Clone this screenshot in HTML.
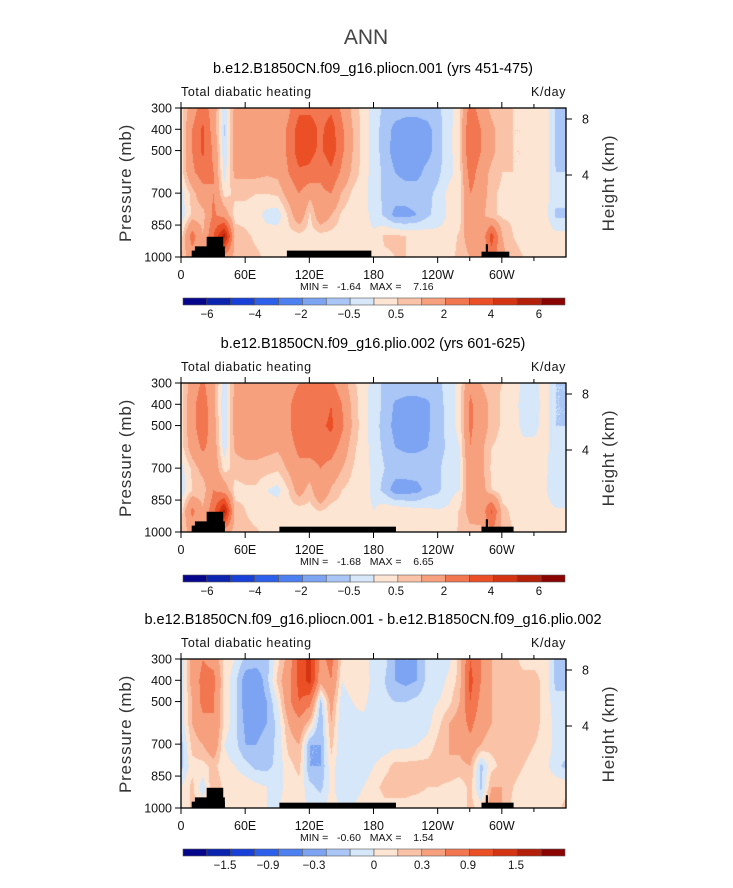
<!DOCTYPE html>
<html><head><meta charset="utf-8">
<style>
body{margin:0;background:#fff;width:733px;height:888px;overflow:hidden;position:relative;font-family:"Liberation Sans",sans-serif}
canvas{position:absolute}
svg{position:absolute;left:0;top:0}
</style></head>
<body>
<canvas id="c0" width="385" height="149" style="left:181px;top:108px"></canvas>
<canvas id="c1" width="385" height="149" style="left:181px;top:383px"></canvas>
<canvas id="c2" width="385" height="149" style="left:181px;top:659px"></canvas>
<svg id="ov" width="733" height="888"></svg>
<script>
const lons=[0,10,20,30,40,50,60,70,80,90,100,110,120,130,140,150,160,170,180,190,200,210,220,230,240,250,260,270,280,290,300,310,320,330,340,350,360];
const pres=[300,400,500,600,700,800,900,1000];
const p1=[
[0.3,1.5,2.5,1.5,-0.3,1.2,1.2,1.2,1.2,1.2,1.8,2.8,2.8,2.5,2.8,1.8,0.8,0.3,-0.3,-0.6,-0.7,-0.8,-0.8,-0.7,-0.6,-0.2,0.3,2.5,1.5,0.8,0.6,0.5,0.5,0.4,0.3,-0.6,-0.6],
[0.3,2.0,3.2,1.5,-0.6,1.4,1.4,1.4,1.4,1.4,2.2,3.5,3.5,2.8,3.5,2.2,1.0,0.3,-0.3,-0.7,-1.2,-1.3,-1.3,-1.2,-0.7,-0.2,0.4,3.0,2.0,1.2,0.6,0.5,0.5,0.4,0.3,-0.6,-0.6],
[0.3,2.0,3.2,1.8,-0.4,1.4,1.4,1.4,1.4,1.4,2.2,3.6,3.3,2.8,3.6,2.2,1.0,0.3,-0.3,-0.7,-1.3,-1.3,-1.3,-1.2,-0.7,-0.2,0.4,3.0,2.0,1.2,0.6,0.5,0.5,0.4,0.3,-0.6,-0.6],
[0.3,1.8,2.5,2.0,-0.3,1.2,1.2,1.2,1.1,1.2,2.0,2.8,2.8,2.2,2.8,1.8,0.8,0.3,-0.3,-0.6,-1.0,-1.2,-1.2,-0.8,-0.6,-0.2,0.3,2.5,1.5,0.8,0.5,0.5,0.5,0.4,0.3,-0.5,-0.5],
[-0.2,0.7,1.6,2.0,0.3,0.6,0.6,0.5,0.5,0.6,1.3,2.0,1.2,1.8,2.0,0.9,0.4,0.2,-0.3,-0.6,-0.7,-0.7,-0.7,-0.6,-0.4,0.2,0.3,2.0,1.5,0.6,0.4,0.4,0.3,0.3,0.2,-0.3,-0.3],
[-0.3,0.6,0.7,2.2,1.5,0.3,0.3,0.2,-0.2,-0.3,0.6,1.6,0.4,1.6,1.0,0.4,0.2,0.2,-0.2,-0.6,-1.2,-1.2,-1.0,-0.6,-0.3,0.1,0.2,2.0,1.2,0.6,0.4,0.4,0.3,0.3,0.2,-0.6,-0.6],
[0.3,2.5,1.0,3.0,5.5,0.8,0.6,0.4,0.3,0.3,0.3,0.3,0.3,0.3,0.3,0.2,0.2,0.2,0.1,0.6,0.6,0.5,0.4,0.3,0.2,0.2,0.6,1.5,1.0,3.5,1.0,0.5,0.4,0.3,0.3,0.2,0.2],
[0.6,1.5,1.0,2.0,1.5,0.8,0.7,0.6,0.4,0.3,0.3,0.3,0.3,0.3,0.3,0.3,0.3,0.3,0.3,0.4,0.5,0.5,0.5,0.5,0.4,0.4,0.6,1.0,1.0,2.5,1.2,0.6,0.5,0.5,0.4,0.4,0.5]];
const p2=[
[0.3,1.4,2.2,1.2,-0.3,1.1,1.3,1.3,1.3,1.1,1.5,2.0,2.0,2.2,2.2,1.4,0.6,0.3,-0.3,-0.6,-0.6,-0.7,-0.7,-0.7,-0.6,-0.3,0.2,1.8,1.0,0.6,0.5,0.4,-0.2,-0.2,0.3,-0.5,-0.5],
[0.3,1.7,2.6,1.2,-0.5,1.3,1.5,1.5,1.4,1.2,1.8,2.6,2.6,2.5,3.0,2.0,0.8,0.2,-0.3,-0.6,-1.1,-1.2,-1.2,-1.1,-0.7,-0.3,0.2,2.2,1.4,0.8,0.4,0.3,-0.3,-0.3,0.3,-0.5,-0.5],
[0.3,1.7,2.6,1.4,-0.4,1.3,1.5,1.5,1.4,1.3,1.8,2.8,2.8,2.8,3.2,2.2,0.9,0.2,-0.3,-0.7,-1.2,-1.2,-1.2,-1.1,-0.7,-0.3,0.2,2.2,1.4,0.8,0.4,0.3,-0.2,-0.2,0.3,-0.5,-0.5],
[0.3,1.4,2.2,1.5,-0.3,1.1,1.3,1.3,1.2,1.1,1.5,2.3,2.5,2.5,2.5,1.6,0.6,0.3,-0.3,-0.6,-1.0,-1.1,-1.1,-1.0,-0.7,-0.4,0.0,2.0,1.2,0.5,0.3,0.3,0.2,0.2,0.2,-0.4,-0.4],
[-0.2,0.6,1.3,1.6,0.3,0.7,0.8,0.8,0.7,0.6,1.1,1.7,1.5,2.0,1.6,1.0,0.5,0.3,-0.2,-0.5,-0.7,-0.7,-0.7,-0.7,-0.6,-0.2,0.0,1.6,1.2,0.4,0.2,0.2,0.2,0.2,0.1,-0.3,-0.3],
[-0.3,0.5,0.6,2.0,1.5,0.3,0.4,0.4,0.0,-0.2,0.5,1.4,0.7,1.9,0.9,0.5,0.3,0.3,-0.2,-0.7,-1.3,-1.3,-1.2,-0.8,-0.6,-0.2,0.0,1.7,1.4,0.5,0.2,0.2,0.2,0.2,0.1,-0.5,-0.5],
[0.3,2.3,1.1,2.7,5.4,0.7,0.5,0.35,0.3,0.35,0.25,0.2,0.3,0.5,0.25,0.3,0.25,0.2,0.0,0.4,0.4,0.3,0.2,0.15,0.05,0.1,0.55,1.3,1.2,3.2,0.7,0.35,0.3,0.2,0.2,0.1,0.1],
[0.6,1.3,0.9,1.8,1.4,0.7,0.6,0.55,0.4,0.3,0.25,0.25,0.3,0.3,0.25,0.3,0.3,0.25,0.25,0.3,0.4,0.4,0.45,0.45,0.35,0.35,0.55,0.8,0.9,2.0,0.9,0.5,0.4,0.4,0.3,0.3,0.3]];
const p3=[
[-0.1,0.4,0.6,0.5,0.1,0.0,-0.2,-0.2,-0.2,0.1,0.4,1.0,1.3,0.5,0.7,0.1,0.1,0.1,-0.1,-0.1,-0.3,-0.3,-0.3,-0.1,-0.1,-0.05,0.2,0.9,0.6,0.3,0.2,0.2,0.1,0.1,0.1,-0.2,-0.2],
[-0.1,0.4,0.7,0.7,0.1,-0.1,-0.4,-0.45,-0.2,0.2,0.5,1.0,1.3,0.4,0.6,0.0,0.1,0.15,-0.1,-0.15,-0.3,-0.35,-0.3,-0.1,-0.1,0.05,0.2,1.0,0.6,0.3,0.2,0.2,0.2,0.2,0.1,-0.2,-0.2],
[-0.1,0.3,0.7,0.6,0.1,-0.1,-0.4,-0.45,-0.3,0.0,0.5,0.9,0.7,-0.2,0.4,-0.1,0.0,0.05,-0.1,-0.1,-0.15,-0.15,-0.1,-0.05,0.0,0.1,0.3,0.9,0.5,0.3,0.2,0.2,0.2,0.2,0.1,-0.1,-0.1],
[-0.1,0.3,0.5,0.6,0.1,-0.1,-0.35,-0.35,-0.3,-0.1,0.3,0.5,0.2,-0.3,0.3,-0.15,-0.05,-0.05,-0.1,-0.1,-0.1,-0.1,-0.1,-0.05,0.1,0.3,0.4,0.7,0.4,0.3,0.2,0.2,0.2,0.2,0.1,-0.05,-0.05],
[-0.2,0.2,0.3,0.5,0.0,-0.1,-0.3,-0.3,-0.25,-0.1,0.2,0.3,-0.3,-0.3,0.2,-0.15,-0.1,-0.1,-0.1,-0.1,-0.05,-0.05,0.0,0.05,0.2,0.3,0.35,0.5,0.3,0.2,0.2,0.2,0.2,0.15,0.1,-0.05,-0.05],
[-0.2,0.1,0.1,0.2,0.05,0.0,-0.1,-0.2,-0.2,-0.1,0.1,0.2,-0.3,-0.3,0.1,-0.15,-0.1,-0.1,0.0,0.1,0.2,0.2,0.2,0.2,0.25,0.3,0.25,0.3,-0.2,0.1,0.2,0.2,0.15,0.1,0.05,-0.1,-0.2],
[0.0,0.2,-0.1,0.3,0.1,0.1,0.1,0.05,0.0,-0.05,0.05,0.1,-0.1,-0.2,0.05,-0.1,-0.05,0.0,0.1,0.2,0.2,0.2,0.2,0.15,0.15,0.1,0.05,0.2,-0.2,0.3,0.3,0.15,0.1,0.1,0.1,0.1,0.1],
[0.0,0.2,0.1,0.2,0.1,0.1,0.1,0.05,0.0,0.0,0.05,0.05,0.0,0.0,0.05,0.0,0.0,0.05,0.05,0.1,0.1,0.1,0.05,0.05,0.05,0.05,0.05,0.2,0.1,0.5,0.3,0.1,0.1,0.1,0.1,0.1,0.2]];
const levelsA=[-6,-5,-4,-3,-2,-1,-0.5,0,0.5,1,2,3,4,5,6];
const levelsB=[-1.8,-1.5,-1.2,-0.9,-0.6,-0.3,-0.15,0,0.15,0.3,0.6,0.9,1.2,1.5,1.8];
const cbLabelsA=["-6","-4","-2","-0.5","0.5","2","4","6"];
const cbLabelsB=["-1.5","-0.9","-0.3","0","0.3","0.9","1.5"];
const xTickLabels=["0","60E","120E","180","120W","60W"];
const yTickVals=[300,400,500,700,850,1000];
const colors=['#06068c','#0b24b0','#1840d8','#2b5fec','#4d80f0','#7ca4f2','#aac6f6','#d5e7f8','#fde5d3','#fac3a8','#f6a07e','#f27650','#ea4f26','#d43412','#b31f09','#8a0303'];
// topography: [lonStart, lonEnd, pressureTop]
const topo1=[[10,41,970],[13,41,950],[24,39.5,905],[99,178,970],[281,307,975],[285,287,940]];
const topo2=[[10,41,970],[13,41,950],[24,39.5,905],[92,201,975],[281,311,975],[285,287,940]];
const panels=[
 {data:p1,lev:levelsA,top:108,cbTop:298,title:"b.e12.B1850CN.f09_g16.pliocn.001 (yrs 451-475)",ty:73,minmax:["-1.64","7.16"],lab:cbLabelsA,topo:topo1},
 {data:p2,lev:levelsA,top:383,cbTop:575,title:"b.e12.B1850CN.f09_g16.plio.002 (yrs 601-625)",ty:348,minmax:["-1.68","6.65"],lab:cbLabelsA,topo:topo2},
 {data:p3,lev:levelsB,top:659,cbTop:849,title:"b.e12.B1850CN.f09_g16.pliocn.001 - b.e12.B1850CN.f09_g16.plio.002",ty:624,minmax:["-0.60","1.54"],lab:cbLabelsB,topo:topo2}];
const X0=181,W=385,H=149;
const xs=l=>X0+l*W/360;
const ys=(p,top)=>top+(p-300)/700*H;
function hex(c){return [parseInt(c.substr(1,2),16),parseInt(c.substr(3,2),16),parseInt(c.substr(5,2),16)];}
const rgb=colors.map(hex);
function val(d,lon,p){
 let i=Math.min(lons.length-2,Math.floor(lon/10));let fx=(lon-lons[i])/10;
 let j=0;while(j<pres.length-2&&p>pres[j+1])j++;let fy=(p-pres[j])/(pres[j+1]-pres[j]);
 fy=Math.max(0,Math.min(1,fy));
 return d[j][i]*(1-fx)*(1-fy)+d[j][i+1]*fx*(1-fy)+d[j+1][i]*(1-fx)*fy+d[j+1][i+1]*fx*fy;}
panels.forEach((P,k)=>{
 const cv=document.getElementById('c'+k),ctx=cv.getContext('2d');
 const img=ctx.createImageData(W,H);
 for(let y=0;y<H;y++)for(let x=0;x<W;x++){
  const v=val(P.data,x/W*360,300+y/H*700);
  let b=0;while(b<P.lev.length&&v>P.lev[b])b++;
  const c=rgb[b],o=(y*W+x)*4;img.data[o]=c[0];img.data[o+1]=c[1];img.data[o+2]=c[2];img.data[o+3]=255;}
 ctx.putImageData(img,0,0);
});
const NS='http://www.w3.org/2000/svg',svg=document.getElementById('ov');
function el(t,a,txt,par){const e=document.createElementNS(NS,t);for(const k in a)e.setAttribute(k,a[k]);if(txt!==undefined)e.textContent=txt;(par||svg).appendChild(e);return e;}
let t=el('text',{x:366,y:44,'text-anchor':'middle','font-size':21,fill:'#444'},'ANN');


panels.forEach((P,k)=>{
 const g=el('g',{});
 
 
 const top=P.top,bot=top+H;
 let e=el('text',{x:373,y:P.ty,'text-anchor':'middle','font-size':14.5,fill:'#000'},P.title,g);
 
 
 e=el('text',{x:181,y:top-12,'font-size':12.5,fill:'#111','letter-spacing':'0.6'},'Total diabatic heating',g);
 
 
 e=el('text',{x:566,y:top-12,'text-anchor':'end','font-size':12.5,fill:'#111','letter-spacing':'0.6'},'K/day',g);
 
 
 P.topo.forEach(r=>{const m=el('rect',{x:xs(r[0]),y:ys(r[2],top),width:xs(r[1])-xs(r[0]),height:bot-ys(r[2],top),fill:'#000'},undefined,g);
  
  });
 el('rect',{x:X0,y:top,width:W,height:H,fill:'none',stroke:'#000','stroke-width':1.3},undefined,g);
 yTickVals.forEach(p=>{const y=ys(p,top);el('line',{x1:X0-6,x2:X0,y1:y,y2:y,stroke:'#000'},undefined,g);
  const tl=el('text',{x:X0-9,y:y+4.5,'text-anchor':'end','font-size':12.5,fill:'#111'},String(p),g);
  
  });
 xTickLabels.forEach((s,i)=>{const x=xs(i*60);el('line',{x1:x,x2:x,y1:bot,y2:bot+6,stroke:'#000'},undefined,g);el('line',{x1:x,x2:x,y1:top,y2:top-6,stroke:'#000'},undefined,g);
  const tl=el('text',{x:x,y:bot+22,'text-anchor':'middle','font-size':12.5,fill:'#111'},s,g);
  
  });
 [270,330].forEach(l=>{const x=xs(l);el('line',{x1:x,x2:x,y1:bot,y2:bot+4,stroke:'#000'},undefined,g);el('line',{x1:x,x2:x,y1:top,y2:top-4,stroke:'#000'},undefined,g);});
 [[8,top+11],[4,top+67]].forEach(a=>{el('line',{x1:566,x2:572,y1:a[1],y2:a[1],stroke:'#000'},undefined,g);
  el('text',{x:582,y:a[1]+4.5,'font-size':12.5,fill:'#111'},String(a[0]),g);});
 e=el('text',{transform:`translate(131,${top+75}) rotate(-90)`,'text-anchor':'middle','font-size':17,fill:'#333','letter-spacing':'0.8'},'Pressure (mb)',g);
 
 
 e=el('text',{transform:`translate(614,${top+75}) rotate(-90)`,'text-anchor':'middle','font-size':17,fill:'#333','letter-spacing':'0.8'},'Height (km)',g);
 
 
 e=el('text',{x:300,y:bot+33,'font-size':10.5,fill:'#111',style:'white-space:pre'},'MIN =   '+P.minmax[0]+'   MAX =    '+P.minmax[1],g);
 
 
 const cx0=183,cw=(565-183)/16;
 colors.forEach((c,i)=>{const r=el('rect',{x:cx0+i*cw,y:P.cbTop,width:cw,height:7,fill:c,stroke:'#555','stroke-width':0.6},undefined,g);
  
  });
 const pos=P.lab.length===8?[207,255,301,349,396,444,491,539]:[225,268,314,374,422,468,516];
 P.lab.forEach((s,i)=>{const tl=el('text',{x:pos[i],y:P.cbTop+20,'text-anchor':'middle','font-size':11.5,fill:'#111'},s.replace('-','\u2212'),g);
  
  });
});
</script>
</body></html>
